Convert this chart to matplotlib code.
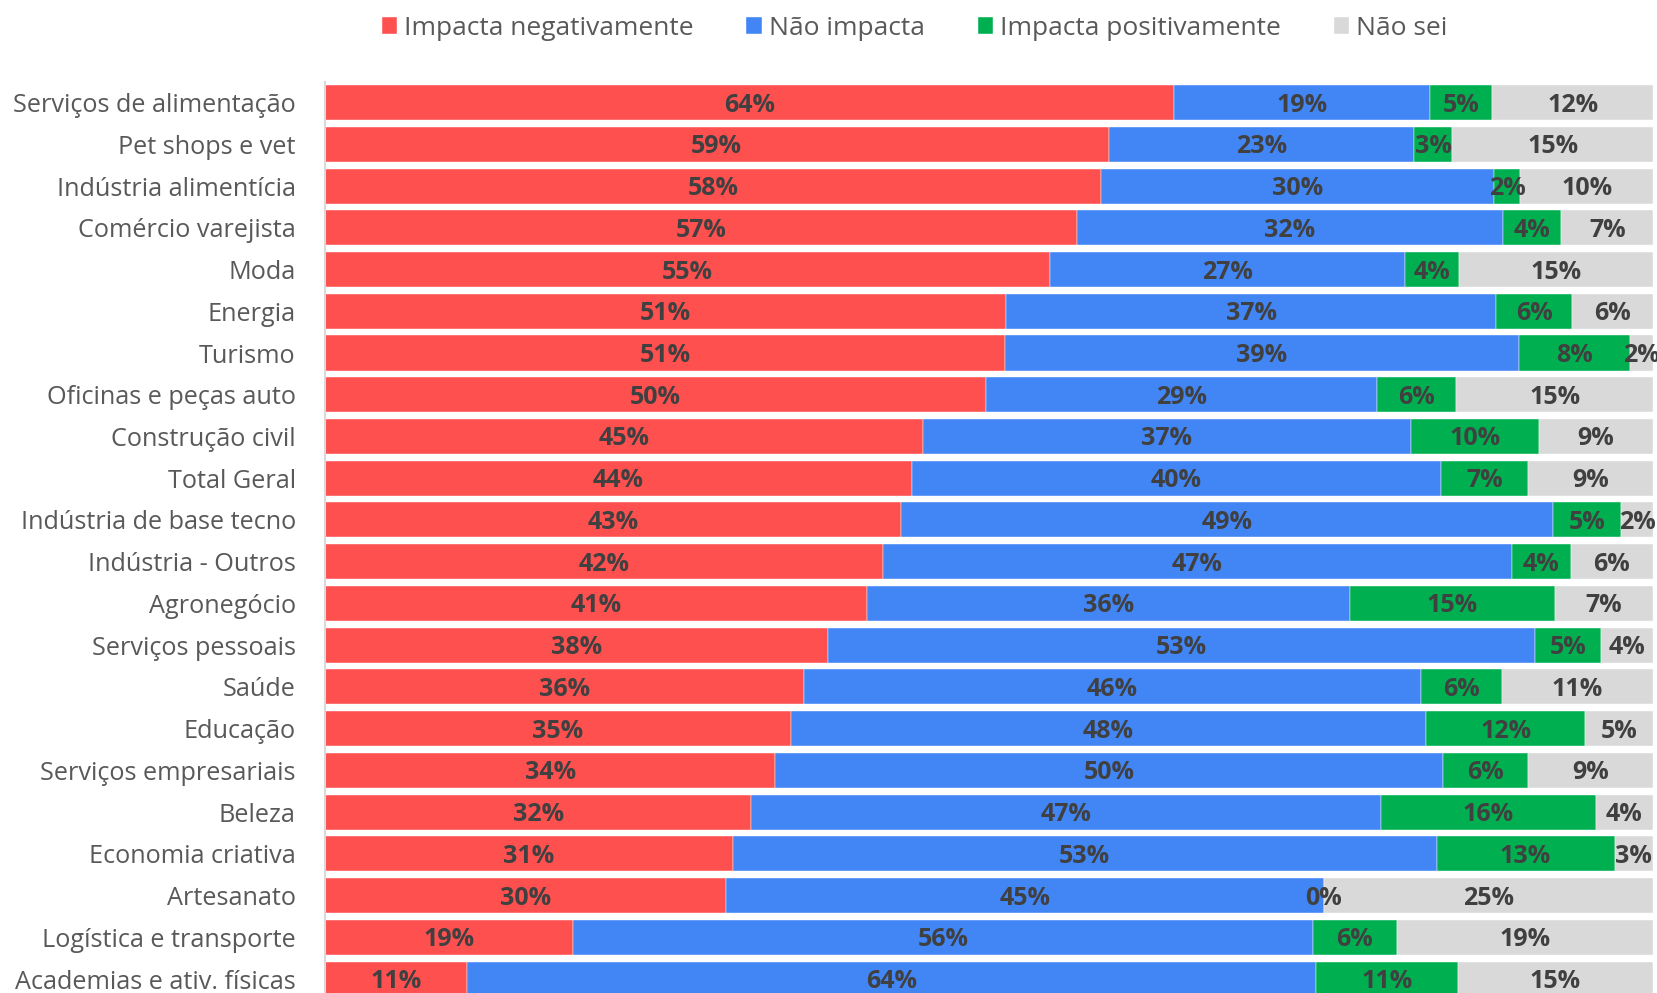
import matplotlib.pyplot as plt
import numpy as np

plt.rcParams['font.family'] = ['Open Sans', 'DejaVu Sans']

setores = ["Serviços de alimentação", "Pet shops e vet", "Indústria alimentícia",
           "Comércio varejista", "Moda", "Energia", "Turismo", "Oficinas e peças auto",
           "Construção civil", "Total Geral", "Indústria de base tecno", "Indústria - Outros",
           "Agronegócio", "Serviços pessoais", "Saúde", "Educação", "Serviços empresariais",
           "Beleza", "Economia criativa", "Artesanato", "Logística e transporte",
           "Academias e ativ. físicas"]

negativo = [63.9, 59.0, 58.4, 56.6, 54.6, 51.3, 51.2, 49.8, 45.0, 44.2, 43.4,
            42.0, 40.8, 37.9, 36.1, 35.1, 33.9, 32.1, 30.7, 30.2, 18.7, 10.7]
nao_impacta = [19.3, 23.0, 29.6, 32.1, 26.7, 36.9, 38.7, 29.4, 36.8, 39.8, 49.1,
               47.4, 36.4, 53.2, 46.4, 47.8, 50.3, 47.4, 53.0, 45.0, 55.7, 63.9]
positivo = [4.7, 2.9, 2.0, 4.4, 4.1, 5.7, 8.4, 6.0, 9.6, 6.6, 5.1,
            4.4, 15.4, 5.0, 6.1, 12.0, 6.4, 16.2, 13.4, 0.0, 6.3, 10.7]
nao_sei = [12.1, 15.1, 10.0, 6.9, 14.6, 6.1, 1.7, 14.8, 8.6, 9.4, 2.4,
           6.2, 7.4, 3.9, 11.4, 5.1, 9.4, 4.3, 2.9, 24.8, 19.3, 14.7]

series = [("Impacta negativamente", negativo, "#FF5050"),
          ("Não impacta", nao_impacta, "#4285F4"),
          ("Impacta positivamente", positivo, "#00B050"),
          ("Não sei", nao_sei, "#D9D9D9")]

fig = plt.figure(figsize=(16.58, 9.93), dpi=100)
ax = fig.add_axes([0.196, -0.007, 0.801, 0.9247])

y = np.arange(len(setores))
left = np.zeros(len(setores))
for nome, vals, cor in series:
    vals = np.array(vals)
    ax.barh(y, vals, left=left, height=0.84, color=cor, label=nome,
            edgecolor="white", linewidth=0.3)
    # rótulos no centro de cada pedaço
    for yi, l, v in zip(y, left, vals):
        ax.text(l + v / 2, yi + 0.06, f"{v:.0f}%", ha="center", va="center",
                fontsize=18, fontweight="bold", color="#404040")
    left += vals

ax.set_xlim(0, 100)
ax.set_ylim(21.5, -0.5)
ax.set_yticks(y)
ax.set_yticklabels(setores, fontsize=18.2, color="#595959")
ax.tick_params(axis="y", length=0, pad=21)
ax.set_xticks([])
for s in ["top", "right", "bottom"]:
    ax.spines[s].set_visible(False)
ax.spines["left"].set_color("#D9D9D9")
ax.spines["left"].set_linewidth(1.5)

fig.legend(loc="upper center", bbox_to_anchor=(0.5516, 1.008), ncol=4, frameon=False,
           fontsize=19, labelcolor="#595959", handlelength=0.6, handleheight=0.6,
           handletextpad=0.25, columnspacing=2.0)

fig.savefig("out.png", dpi=100)
